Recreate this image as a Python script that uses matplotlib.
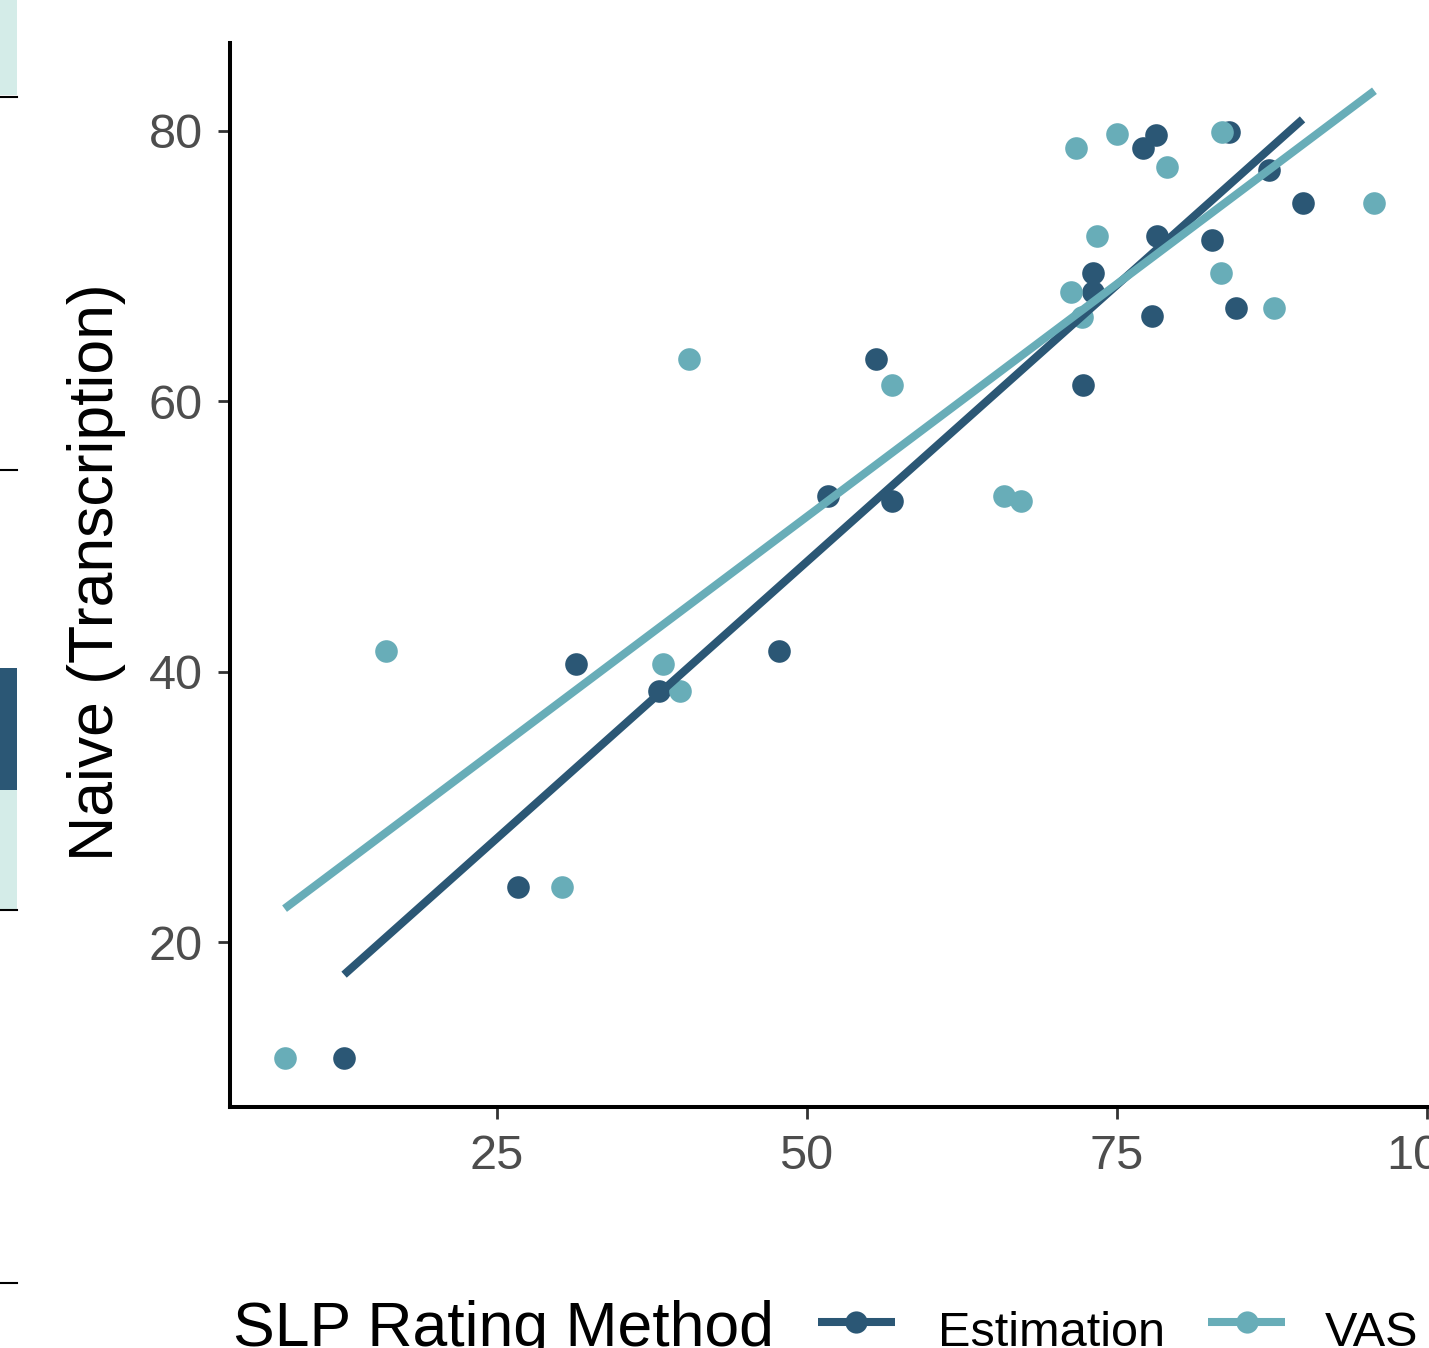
import matplotlib
matplotlib.use("Agg")
import matplotlib.pyplot as plt
from matplotlib.lines import Line2D
from matplotlib.patches import Rectangle
import numpy as np

plt.rcParams['font.family'] = ['Liberation Sans', 'DejaVu Sans']

# SLP rating (x) vs naive listener transcription score (y)
est_x = [12.7, 26.7, 31.4, 38.1, 47.8, 51.7, 55.6, 56.9, 72.3, 73.1,
         73.1, 77.1, 78.2, 77.9, 78.3, 82.7, 84.6, 84.1, 87.3, 90.0]
est_y = [11.4, 24.1, 40.6, 38.6, 41.5, 53.0, 63.1, 52.6, 61.2, 69.5,
         68.1, 78.7, 79.7, 66.3, 72.2, 71.9, 66.9, 79.9, 77.1, 74.7]

vas_x = [7.9, 16.1, 30.3, 38.4, 39.8, 40.5, 56.9, 65.9, 67.3, 71.3,
         72.2, 71.7, 73.4, 75.0, 79.1, 83.5, 83.4, 87.7, 95.8]
vas_y = [11.4, 41.5, 24.1, 40.6, 38.6, 63.1, 61.2, 53.0, 52.6, 68.1,
         66.2, 78.7, 72.2, 79.8, 77.3, 79.9, 69.5, 66.9, 74.7]

methods = ['Estimation', 'VAS']
colors = ['#2b5775', '#68adb8']

W, H = 1429, 1348
fig = plt.figure(figsize=(W / 100, H / 100), dpi=100)
ax = fig.add_axes([230 / W, (H - 1107) / H, (W - 230) / W, (1107 - 43) / H])

series = [(est_x, est_y), (vas_x, vas_y)]
for (xs, ys), c in zip(series, colors):
    ax.scatter(xs, ys, s=265, color=c, linewidths=0, zorder=2)
for (xs, ys), c in zip(series, colors):
    xs = np.array(xs); ys = np.array(ys)
    b, a = np.polyfit(xs, ys, 1)
    xl = np.array([xs.min(), xs.max()])
    ax.plot(xl, a + b * xl, color=c, lw=5.8, solid_capstyle='butt', zorder=3)

ax.set_xlim(3.5, 100.2)
ax.set_ylim(7.8, 86.5)
ax.set_xticks([25, 50, 75, 100])
ax.set_yticks([20, 40, 60, 80])
for s in ['top', 'right']:
    ax.spines[s].set_visible(False)
for s in ['left', 'bottom']:
    ax.spines[s].set_linewidth(2.9)
    ax.spines[s].set_color('black')
ax.tick_params(axis='both', length=8.6, width=2.0, color='#333333',
               labelsize=35, labelcolor='#4d4d4d', pad=11)
ax.spines['bottom'].set_clip_on(False)

fig.text(97 / W, 1 - 572 / H, 'Naive (Transcription)', rotation=90,
         ha='center', va='center', fontsize=45, color='black')

# legend along the bottom
base = 1 - 1346 / H
fig.text(233 / W, base, 'SLP Rating Method', fontsize=45, va='baseline', ha='left')
key_y = 1 - 1322 / H
for (x0, x1, tx), lab, c in zip([(818, 895, 938), (1208, 1285, 1325)], methods, colors):
    fig.add_artist(Line2D([x0 / W, x1 / W], [key_y, key_y], color=c, lw=5.8,
                          solid_capstyle='butt', transform=fig.transFigure))
    fig.add_artist(Line2D([(x0 + x1) / 2 / W], [key_y], color=c, marker='o',
                          markersize=16, markeredgewidth=0, transform=fig.transFigure))
    fig.text(tx / W, base, lab, fontsize=35, va='baseline', ha='left')

# fragments of the neighbouring panel at the left edge
sw = 17 / W
strips = [(0, 95, '#d4ece8'), (668, 790, '#2b5775'), (790, 910, '#d4ece8')]
for y0, y1, c in strips:
    fig.add_artist(Rectangle((0, 1 - y1 / H), sw, (y1 - y0) / H, color=c,
                             transform=fig.transFigure, lw=0))
for yy in [97, 470, 910, 1283]:
    fig.add_artist(Line2D([0, sw], [1 - yy / H, 1 - yy / H], color='black', lw=1.5,
                          transform=fig.transFigure))

fig.savefig('out.png', dpi=100)
